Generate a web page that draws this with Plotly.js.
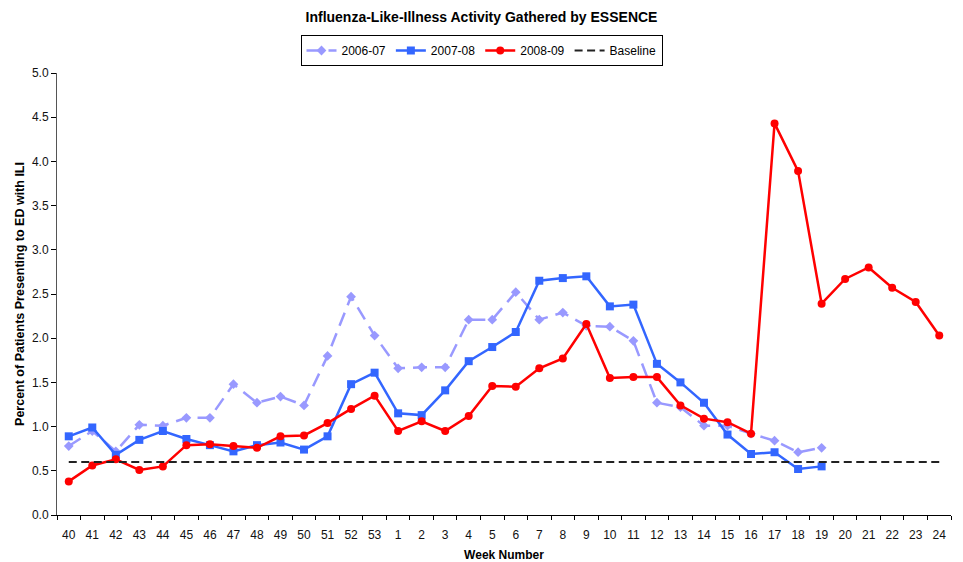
<!DOCTYPE html>
<html>
<head>
<meta charset="utf-8">
<script src="https://cdn.plot.ly/plotly-3.0.1.min.js"></script>
<style>
html,body{margin:0;padding:0;background:#fff;}
#chart{width:963px;height:562px;}
</style>
</head>
<body>
<div id="chart"></div>
<script>
const weeks = ["40","41","42","43","44","45","46","47","48","49","50","51","52","53",
  "1","2","3","4","5","6","7","8","9","10","11","12","13","14","15","16","17","18","19",
  "20","21","22","23","24"];

const s2006_07 = [0.78,0.95,0.72,1.02,1.01,1.10,1.10,1.48,1.27,1.34,1.24,1.80,2.47,2.03,
  1.66,1.67,1.67,2.21,2.21,2.52,2.21,2.29,2.14,2.13,1.97,1.27,1.22,1.01,1.01,0.92,0.84,0.71,0.76];

const s2007_08 = [0.89,0.99,0.68,0.85,0.95,0.86,0.79,0.72,0.79,0.82,0.74,0.89,1.48,1.61,
  1.15,1.13,1.41,1.74,1.90,2.07,2.65,2.68,2.70,2.36,2.38,1.71,1.50,1.27,0.91,0.69,0.71,0.52,0.55];

const s2008_09 = [0.38,0.56,0.63,0.51,0.55,0.79,0.80,0.78,0.76,0.89,0.90,1.04,1.20,1.35,
  0.95,1.06,0.95,1.12,1.46,1.45,1.66,1.77,2.16,1.55,1.56,1.56,1.24,1.09,1.05,0.92,4.43,3.89,2.39,
  2.67,2.80,2.57,2.41,2.03];

const baselineValue = 0.60;
const baseline = weeks.map(() => baselineValue);

const seriesNames = ["2006-07","2007-08","2008-09","Baseline"];

const traces = [
  {
    x: weeks.slice(0, s2006_07.length), y: s2006_07, name: seriesNames[0],
    type: 'scatter', mode: 'lines+markers',
    line: {color: '#9999FF', width: 2.5, dash: '14px,8px'},
    marker: {symbol: 'diamond', size: 7.5, color: '#9999FF'}
  },
  {
    x: weeks.slice(0, s2007_08.length), y: s2007_08, name: seriesNames[1],
    type: 'scatter', mode: 'lines+markers',
    line: {color: '#3366FF', width: 2.5},
    marker: {symbol: 'square', size: 8, color: '#3366FF'}
  },
  {
    x: weeks, y: s2008_09, name: seriesNames[2],
    type: 'scatter', mode: 'lines+markers',
    line: {color: '#FF0000', width: 2.5},
    marker: {symbol: 'circle', size: 8, color: '#FF0000'}
  },
  {
    x: weeks, y: baseline, name: seriesNames[3],
    type: 'scatter', mode: 'lines',
    line: {color: '#222222', width: 2, dash: '8px,4.5px'}
  }
];

const layout = {
  width: 963, height: 562,
  margin: {l: 57, r: 12, t: 73, b: 47},
  paper_bgcolor: '#fff', plot_bgcolor: '#fff',
  font: {family: 'Liberation Sans, Arial, sans-serif', size: 12, color: '#111'},
  title: {
    text: '<b>Influenza-Like-Illness Activity Gathered by ESSENCE</b>',
    font: {family: 'Liberation Sans, Arial, sans-serif', size: 14, color: '#000'},
    x: 0.5, xref: 'container', xanchor: 'center',
    y: 1 - 17/562, yref: 'container', yanchor: 'middle'
  },
  showlegend: true,
  legend: {
    orientation: 'h', x: 0.5, xref: 'container', xanchor: 'center',
    y: 1 - 35/562, yref: 'container', yanchor: 'top',
    bordercolor: '#000', borderwidth: 1, bgcolor: '#fff',
    font: {size: 12, color: '#000'},
    tracegroupgap: 0, itemwidth: 30
  },
  xaxis: {
    type: 'category',
    categoryorder: 'array', categoryarray: weeks,
    range: [-0.5, weeks.length - 0.5],
    showgrid: false, zeroline: false,
    showline: true, linecolor: '#000', linewidth: 1,
    ticks: 'outside', tickson: 'boundaries', ticklen: 4, tickcolor: '#000',
    ticklabelstandoff: 9,
    tickfont: {size: 12, color: '#111'},
    title: {text: '<b>Week Number</b>', font: {size: 12, color: '#000'}, standoff: 14}
  },
  yaxis: {
    range: [0, 5], dtick: 0.5, tickformat: '.1f',
    showgrid: false, zeroline: false,
    showline: true, linecolor: '#555', linewidth: 1,
    ticks: 'outside', ticklen: 5, tickcolor: '#000',
    tickfont: {size: 12, color: '#111'},
    title: {text: '<b>Percent of Patients Presenting to ED with ILI</b>', font: {size: 12.5, color: '#000'}, standoff: 4}
  }
};

Plotly.newPlot('chart', traces, layout, {displayModeBar: false, staticPlot: true});
</script>
</body>
</html>
